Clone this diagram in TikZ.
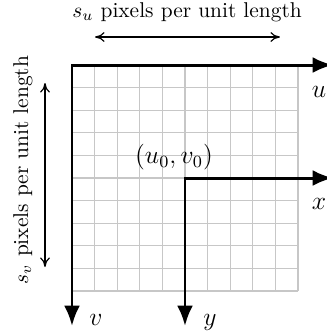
\documentclass[tikz,border=0pt]{standalone}
\usetikzlibrary{arrows.meta}
\begin{document}
\begin{tikzpicture}[x=0.4673pt,y=-0.4673pt,
  gridline/.style={draw=black!22,line width=0.5pt},
  axisline/.style={line width=1.4pt,line join=miter,
    {Latex[length=9.5pt,width=7.4pt]}-{Latex[length=9.5pt,width=7.4pt]}},
  measure/.style={{To[length=4.5pt,width=4.6pt]}-{To[length=4.5pt,width=4.6pt]},line width=0.55pt},
  axislabel/.style={font=\large,anchor=base,inner sep=0pt},
  caption/.style={anchor=base,inner sep=0pt}]
\clip (0,0) rectangle (327,336);
\useasboundingbox (0,0) rectangle (327,336);
% grid
\foreach \i in {0,...,10} {
  \draw[gridline] (72+22.6*\i,65) -- (72+22.6*\i,291);
  \draw[gridline] (72,65+22.6*\i) -- (298,65+22.6*\i);
}
% image axes
\coordinate (O) at (72,65);
\coordinate (uend) at (333,65);
\coordinate (vend) at (72,326);
\draw[axisline] (uend) -- (O) -- (vend);
% camera axes
\coordinate (C) at (185,178);
\coordinate (xend) at (333,178);
\coordinate (yend) at (185,326);
\draw[axisline] (xend) -- (C) -- (yend);
% labels
\node[axislabel] (ul) at (319,97) {$u$};
\node[axislabel] (vl) at (96,325) {$v$};
\node[axislabel] (xl) at (319,209) {$x$};
\node[axislabel] (yl) at (210,325) {$y$};
\node[font=\large] (pp) at (174,157) {$(u_0,v_0)$};
% scale indicators
\node[caption] (su) at (187,17) {$s_u$ pixels per unit length};
\coordinate (sua) at (95,37);
\coordinate (sub) at (280,37);
\draw[measure] (sua) -- (sub);
\node[caption,rotate=90] (sv) at (28,170) {$s_v$ pixels per unit length};
\coordinate (sva) at (45,83);
\coordinate (svb) at (45,267);
\draw[measure] (sva) -- (svb);
\end{tikzpicture}
\end{document}
